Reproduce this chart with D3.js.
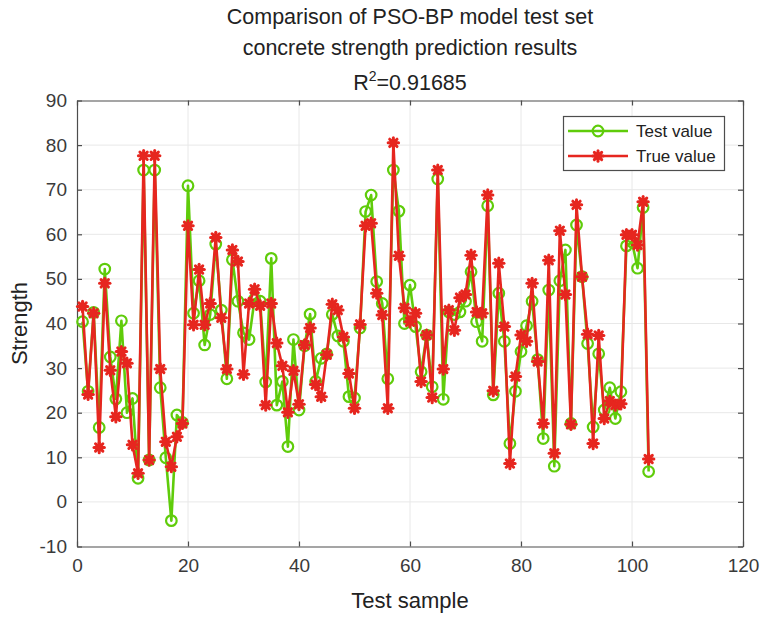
<!DOCTYPE html>
<html>
<head>
<meta charset="utf-8">
<script src="https://cdn.jsdelivr.net/npm/d3@7"></script>
<style>
  html, body { margin: 0; padding: 0; background: #ffffff; }
  svg { display: block; font-family: "Liberation Sans", Arial, Helvetica, sans-serif; }
</style>
</head>
<body>
<script>
// ---- data ----
const titleLines = ["Comparison of PSO-BP model test set", "concrete strength prediction results"];
const r2Text = "0.91685";
const xTicks = [0, 20, 40, 60, 80, 100, 120];
const yTicks = [-10, 0, 10, 20, 30, 40, 50, 60, 70, 80, 90];
const seriesNames = ["Test value", "True value"];

const testValue = [
  40.4, 24.8, 42.5, 16.7, 52.2, 32.5, 23.1, 40.6, 20.0, 23.2,
  5.3, 74.4, 9.4, 74.4, 25.6, 9.9, -4.2, 19.5, 17.8, 70.9,
  42.3, 49.6, 35.2, 42.0, 57.8, 43.0, 27.6, 54.3, 45.0, 37.9,
  36.4, 45.5, 45.0, 26.9, 54.6, 21.7, 27.0, 12.4, 36.4, 20.6,
  35.0, 42.1, 27.0, 32.2, 33.2, 42.0, 37.2, 36.0, 23.6, 23.3,
  39.0, 65.1, 68.8, 49.4, 44.5, 27.6, 74.4, 65.2, 40.0, 48.6,
  39.3, 29.2, 37.4, 25.8, 72.4, 23.0, 42.6, 42.0, 42.6, 45.0,
  51.6, 40.4, 36.0, 66.4, 24.0, 46.8, 36.0, 13.1, 24.8, 33.7,
  39.5, 45.0, 31.9, 14.2, 47.5, 8.0, 49.6, 56.5, 17.6, 62.1,
  50.5, 35.5, 16.8, 33.2, 20.6, 25.6, 18.7, 24.7, 57.4, 58.3,
  52.4, 66.0, 6.8
];
const trueValue = [
  43.8, 24.1, 42.3, 12.2, 49.0, 29.5, 19.1, 33.7, 31.1, 12.8,
  6.4, 77.6, 9.4, 77.6, 29.8, 13.5, 7.9, 14.6, 17.6, 61.9,
  39.7, 52.1, 39.7, 44.5, 59.3, 41.3, 29.8, 56.5, 53.9, 28.6,
  44.5, 47.7, 44.0, 21.7, 44.5, 35.6, 30.5, 20.1, 29.4, 21.9,
  35.2, 39.0, 26.3, 23.6, 33.0, 44.3, 43.0, 37.0, 28.8, 21.0,
  39.8, 61.9, 62.5, 46.8, 41.9, 21.0, 80.5, 55.2, 43.5, 40.4,
  42.3, 27.0, 37.4, 23.4, 74.4, 29.8, 43.0, 38.5, 45.8, 46.5,
  55.3, 42.6, 42.3, 68.8, 24.9, 53.5, 39.3, 8.6, 28.1, 37.4,
  36.0, 49.0, 31.5, 17.6, 54.2, 10.9, 60.8, 46.5, 17.4, 66.6,
  50.5, 37.6, 13.1, 37.3, 18.7, 22.6, 21.7, 22.0, 59.9, 59.9,
  57.6, 67.3, 9.6
];

// ---- layout ----
const W = 762, H = 617;
const plot = { left: 77, right: 743, top: 100.5, bottom: 546.5 };
const greenC = "#5fcc0a";
const redC = "#e6261f";
const axisC = "#4d4d4d";
const textC = "#3a3a3a";

const svg = d3.select("body").append("svg").attr("width", W).attr("height", H);

const x = d3.scaleLinear().domain([0, 120]).range([plot.left, plot.right]);
const y = d3.scaleLinear().domain([-10, 90]).range([plot.bottom, plot.top]);
const fmt = d => String(d);

// grid
const grid = svg.append("g");
grid.selectAll("line.gx").data(xTicks.slice(1, -1)).enter().append("line")
  .attr("x1", d => x(d)).attr("x2", d => x(d))
  .attr("y1", plot.top).attr("y2", plot.bottom)
  .attr("stroke", "#e8e8e8").attr("stroke-width", 1);
grid.selectAll("line.gy").data(yTicks.slice(1, -1)).enter().append("line")
  .attr("x1", plot.left).attr("x2", plot.right)
  .attr("y1", d => y(d)).attr("y2", d => y(d))
  .attr("stroke", "#e8e8e8").attr("stroke-width", 1);

// axes
const xAxis = d3.axisBottom(x).tickValues(xTicks).tickFormat(fmt).tickSizeInner(-5).tickSizeOuter(0).tickPadding(12);
const yAxis = d3.axisLeft(y).tickValues(yTicks).tickFormat(fmt).tickSizeInner(-5).tickSizeOuter(0).tickPadding(10);
const gx = svg.append("g").attr("transform", `translate(0,${plot.bottom})`).call(xAxis);
const gy = svg.append("g").attr("transform", `translate(${plot.left},0)`).call(yAxis);
const gxTop = svg.append("g").attr("transform", `translate(0,${plot.top})`)
  .call(d3.axisTop(x).tickValues(xTicks).tickSizeInner(-5).tickSizeOuter(0).tickFormat(""));
const gyRight = svg.append("g").attr("transform", `translate(${plot.right},0)`)
  .call(d3.axisRight(y).tickValues(yTicks).tickSizeInner(-5).tickSizeOuter(0).tickFormat(""));
[gx, gy, gxTop, gyRight].forEach(g => {
  g.selectAll("path.domain").attr("stroke", axisC).attr("stroke-width", 1.2);
  g.selectAll(".tick line").attr("stroke", axisC).attr("stroke-width", 1.2);
  g.selectAll(".tick text").attr("fill", textC).style("font-size", "19px")
    .style("font-family", '"Liberation Sans", Arial, sans-serif');
});

// lines
const line = d3.line().x((d, i) => x(i + 1)).y(d => y(d));
const marks = svg.append("g");
marks.append("path").datum(testValue).attr("d", line)
  .attr("fill", "none").attr("stroke", greenC).attr("stroke-width", 2.6).attr("stroke-linejoin", "round");
marks.selectAll("circle.tv").data(testValue).enter().append("circle")
  .attr("cx", (d, i) => x(i + 1)).attr("cy", d => y(d)).attr("r", 5.3)
  .attr("fill", "none").attr("stroke", greenC).attr("stroke-width", 2.2);

marks.append("path").datum(trueValue).attr("d", line)
  .attr("fill", "none").attr("stroke", redC).attr("stroke-width", 2.6).attr("stroke-linejoin", "round");

function asterisk(g, cx, cy, r, col) {
  const gg = g.append("g").attr("transform", `translate(${cx},${cy})`);
  [0, 45, 90, 135].forEach(a => {
    const rad = a * Math.PI / 180;
    gg.append("line")
      .attr("x1", -r * Math.cos(rad)).attr("y1", -r * Math.sin(rad))
      .attr("x2", r * Math.cos(rad)).attr("y2", r * Math.sin(rad))
      .attr("stroke", col).attr("stroke-width", 3).attr("stroke-linecap", "round");
  });
  gg.append("circle").attr("r", r * 0.75).attr("fill", col);
}
trueValue.forEach((d, i) => asterisk(marks, x(i + 1), y(d), 5.2, redC));

// title
const title = svg.append("g").attr("fill", "#222").style("font-size", "21.5px").attr("text-anchor", "middle");
const cx = (plot.left + plot.right) / 2;
title.append("text").attr("x", cx).attr("y", 24).text(titleLines[0]);
title.append("text").attr("x", cx).attr("y", 55).text(titleLines[1]);
const r2 = title.append("text").attr("x", cx).attr("y", 90);
r2.append("tspan").text("R");
r2.append("tspan").attr("dy", -9).style("font-size", "14px").text("2");
r2.append("tspan").attr("dy", 9).text("=" + r2Text);

// axis labels
svg.append("text").attr("x", cx).attr("y", 608).attr("text-anchor", "middle")
  .attr("fill", "#222").style("font-size", "22px").text("Test sample");
svg.append("text").attr("transform", `translate(27,${(plot.top + plot.bottom) / 2}) rotate(-90)`)
  .attr("text-anchor", "middle").attr("fill", "#222").style("font-size", "22px").text("Strength");

// legend
const lg = svg.append("g");
lg.append("rect").attr("x", 563.5).attr("y", 116.5).attr("width", 161).attr("height", 54)
  .attr("fill", "#fff").attr("stroke", axisC).attr("stroke-width", 1.2);
const rows = [{ name: seriesNames[0], c: greenC, y: 131 }, { name: seriesNames[1], c: redC, y: 156 }];
rows.forEach((r, k) => {
  lg.append("line").attr("x1", 568).attr("x2", 628).attr("y1", r.y).attr("y2", r.y)
    .attr("stroke", r.c).attr("stroke-width", 2.6);
  if (k === 0) {
    lg.append("circle").attr("cx", 598).attr("cy", r.y).attr("r", 5.3)
      .attr("fill", "none").attr("stroke", r.c).attr("stroke-width", 2.2);
  } else {
    asterisk(lg, 598, r.y, 5.2, r.c);
  }
  lg.append("text").attr("x", 636).attr("y", r.y + 6).attr("fill", "#222")
    .style("font-size", "17px").text(r.name);
});
</script>
</body>
</html>
